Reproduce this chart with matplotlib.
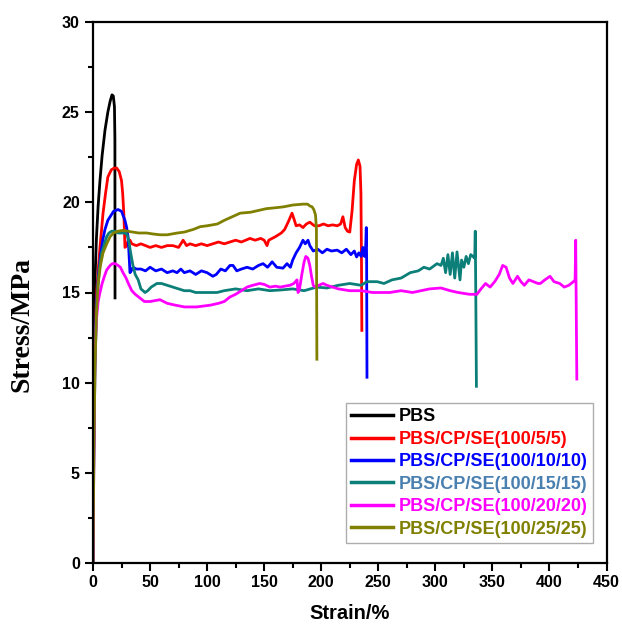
import matplotlib
matplotlib.use('Agg')
import matplotlib.pyplot as plt
from matplotlib.ticker import MultipleLocator

plt.rcParams['font.family'] = ['Liberation Sans', 'DejaVu Sans']
plt.rcParams['font.weight'] = 'bold'

# PBS
pbs_x = [0, 0.8, 1.75, 3, 4.5, 6.1, 8, 10.5, 13, 15, 16.65, 17.8, 18.8, 19.2, 19.3]
pbs_y = [0, 9, 15.7, 18, 19.8, 21.2, 22.6, 24.0, 25.0, 25.6, 25.96, 25.9, 25.3, 23.5, 14.7]

# PBS/CP/SE(100/5/5)
r_x = [0, 0.8, 1.8, 3, 4.5, 6.1, 8.8, 11, 13, 16, 18.5, 20.8, 23, 25, 26, 27, 27.5, 28,
       29.5, 31, 32.4, 34, 38, 42, 46, 50, 55, 60, 65, 70, 75, 79, 82, 85, 90, 95, 100,
       105, 110, 115, 120, 125, 130, 137.6, 142, 147, 150, 152.5, 154, 157, 160, 165,
       168, 171, 174.4, 176, 178, 181, 184, 187, 190, 194, 198, 202, 206, 210, 214, 217,
       219, 221, 223, 225, 227, 229, 231, 232.5, 234, 234.8, 235.3, 235.6]
r_y = [0, 8, 12.5, 14.8, 16.2, 17.5, 19.4, 20.5, 21.4, 21.8, 21.9, 21.9, 21.7, 21.2, 20.5,
       19.4, 18.5, 17.5, 17.6, 17.9, 17.9, 17.7, 17.6, 17.7, 17.6, 17.5, 17.6, 17.5, 17.6,
       17.6, 17.5, 17.9, 17.6, 17.7, 17.6, 17.7, 17.6, 17.7, 17.8, 17.7, 17.8, 17.9, 17.8,
       18.0, 17.9, 18.0, 17.9, 17.6, 17.9, 18.0, 18.1, 18.3, 18.5, 18.9, 19.4, 19.1, 18.7,
       18.75, 18.6, 18.8, 18.9, 18.7, 18.7, 18.8, 18.7, 18.75, 18.7, 18.8, 19.2, 18.6,
       18.4, 18.35, 19.5, 21.2, 22.1, 22.35, 22.0, 20.5, 16.5, 12.9]

# PBS/CP/SE(100/10/10)
b_x = [0, 0.8, 1.8, 3, 4.5, 6.5, 8.5, 10.5, 13, 15, 18, 22, 25, 28, 29.5, 30.7, 31.5,
       32.4, 33.5, 35, 38, 42, 46, 50, 55, 60, 65, 70, 73.6, 77, 80, 85, 90, 95, 100, 105,
       108, 112, 116, 120, 122.7, 126, 130, 135, 140, 145, 149, 153, 157, 161, 166.5, 170,
       173, 175, 178, 181, 184, 186, 188.4, 190, 193, 197, 201, 205, 209, 214, 218, 222,
       226, 229, 231, 233, 235, 236.5, 238, 239, 239.5, 239.8, 240.1]
b_y = [0, 7.5, 12, 14.3, 15.8, 17, 17.9, 18.5, 19.0, 19.2, 19.5, 19.6, 19.5, 19.0, 18.6,
       18.1, 17.2, 16.1, 16.2, 16.4, 16.3, 16.3, 16.2, 16.4, 16.2, 16.3, 16.1, 16.2, 16.1,
       16.3, 16.1, 16.2, 16.0, 16.2, 16.1, 15.9, 16.0, 16.3, 16.2, 16.5, 16.5, 16.2, 16.3,
       16.4, 16.3, 16.5, 16.6, 16.4, 16.7, 16.4, 16.35, 16.6, 16.4, 16.8, 17.2, 17.5, 17.9,
       17.7, 17.9, 17.6, 17.3, 17.4, 17.2, 17.4, 17.3, 17.35, 17.2, 17.4, 17.1, 17.3, 16.97,
       17.2, 17.0, 17.5, 17.0, 17.6, 18.6, 16.8, 10.3]

# PBS/CP/SE(100/15/15)
t_x = [0, 0.8, 1.8, 3, 4.5, 6, 7.6, 10, 12, 14, 16.4, 19, 22, 25, 28, 30, 31.5, 33, 35,
       37, 39.6, 42, 45.6, 48, 51, 56, 60, 65, 70, 75, 80, 85, 90, 94, 100, 108.7, 115,
       125, 135, 145, 155, 166.5, 175, 185, 196, 205, 215, 225, 235, 240, 249, 255, 262,
       270, 278, 285, 290, 295, 301.5, 305, 307, 309, 311, 313, 315, 317, 319, 321.6, 323,
       325, 327, 329, 331, 333, 334.5, 335, 335.5, 336]
t_y = [0, 6.5, 11, 13.8, 15.5, 16.5, 17.2, 17.7, 18.1, 18.3, 18.4, 18.4, 18.3, 18.3, 18.3,
       18.2, 17.8, 17.2, 16.5, 16.0, 15.7, 15.2, 15.0, 15.1, 15.3, 15.5, 15.5, 15.4, 15.3,
       15.2, 15.1, 15.1, 15.0, 15.0, 15.0, 15.0, 15.1, 15.2, 15.1, 15.2, 15.1, 15.15, 15.2,
       15.1, 15.3, 15.25, 15.4, 15.5, 15.4, 15.6, 15.6, 15.5, 15.7, 15.8, 16.1, 16.2, 16.4,
       16.3, 16.6, 16.5, 16.9, 16.1, 17.1, 16.0, 17.2, 15.8, 17.25, 15.7, 16.8, 16.4, 17.0,
       16.6, 17.1, 17.0, 16.9, 18.4, 14.5, 9.8]

# PBS/CP/SE(100/20/20)
m_x = [0, 0.8, 1.75, 3, 4.5, 6.1, 8, 10, 12, 15, 17, 19.3, 22, 24, 26.3, 29, 31, 34, 37,
       41, 45, 50, 58.7, 65, 72, 80, 86, 91, 97, 103, 110, 115, 120, 125, 130, 135, 140,
       146, 150, 155, 160, 164, 168, 172.6, 176, 178.8, 179.7, 181, 183, 185, 186.5, 188.4,
       190, 191.5, 193, 194.6, 198, 201.6, 205, 210, 215, 225, 235, 245, 260, 270, 280,
       295, 305, 313, 320, 330, 336.5, 340, 344, 348, 352, 356, 359, 362, 365, 368, 372,
       375, 378, 382, 386, 390, 392, 396, 400.5, 404, 409, 413, 417, 421, 422.5, 423,
       423.5, 424]
m_y = [0, 6, 11.5, 13.5, 14.5, 15.0, 15.5, 15.9, 16.25, 16.5, 16.6, 16.6, 16.5, 16.4,
       16.1, 15.8, 15.5, 15.1, 14.9, 14.7, 14.5, 14.5, 14.6, 14.4, 14.3, 14.2, 14.2, 14.2,
       14.25, 14.3, 14.4, 14.5, 14.75, 14.9, 15.1, 15.3, 15.4, 15.5, 15.45, 15.3, 15.35,
       15.3, 15.35, 15.4, 15.5, 15.7, 15.0, 15.2, 16.0, 16.7, 17.0, 16.9, 16.5, 15.9, 15.4,
       15.3, 15.4, 15.5, 15.4, 15.3, 15.2, 15.1, 15.1, 15.0, 15.0, 15.1, 15.0, 15.2, 15.25,
       15.1, 15.0, 14.9, 14.9, 15.2, 15.5, 15.3, 15.6, 16.0, 16.5, 16.4, 15.8, 15.5, 15.9,
       15.6, 15.4, 15.7, 15.6, 15.5, 15.5, 15.7, 15.9, 15.6, 15.5, 15.3, 15.4, 15.6, 15.7,
       17.9, 14.0, 10.2]

# PBS/CP/SE(100/25/25)
o_x = [0, 0.8, 1.8, 3, 4.5, 6.5, 8.8, 12, 15, 18, 22, 26.6, 30, 35, 40, 47, 52, 58.7, 65,
       74, 80, 88, 94, 100, 109, 115, 122, 129, 138, 145, 152, 160, 167, 175, 184, 188,
       190, 192, 193.5, 195, 195.8, 196.2]
o_y = [0, 6.5, 11, 13.8, 15.5, 16.5, 17.2, 17.7, 18.1, 18.3, 18.4, 18.45, 18.4, 18.35,
       18.3, 18.3, 18.25, 18.2, 18.2, 18.3, 18.35, 18.5, 18.65, 18.7, 18.8, 19.0, 19.2,
       19.4, 19.45, 19.55, 19.65, 19.7, 19.75, 19.85, 19.9, 19.9, 19.8, 19.75, 19.6, 19.3,
       18.5, 11.3]

labels = ['PBS', 'PBS/CP/SE(100/5/5)', 'PBS/CP/SE(100/10/10)', 'PBS/CP/SE(100/15/15)',
          'PBS/CP/SE(100/20/20)', 'PBS/CP/SE(100/25/25)']
colors = ['black', '#ff0000', '#0000ff', '#0b7f78', '#ff00ff', '#808000']
text_colors = ['black', '#ff0000', '#0000ff', '#4a80b0', '#ff00ff', '#808000']

xs = [pbs_x, r_x, b_x, t_x, m_x, o_x]
ys = [pbs_y, r_y, b_y, t_y, m_y, o_y]

fig = plt.figure(figsize=(6.22, 6.27), dpi=100)
ax = fig.add_axes([93 / 622, (627 - 563) / 627, 513.5 / 622, 541 / 627])

for x, y, c, lab in zip(xs, ys, colors, labels):
    ax.plot(x, y, color=c, lw=2.0, label=lab)

ax.set_xlim(0, 450)
ax.set_ylim(0, 30)
ax.xaxis.set_major_locator(MultipleLocator(50))
ax.xaxis.set_minor_locator(MultipleLocator(25))
ax.yaxis.set_major_locator(MultipleLocator(5))
ax.yaxis.set_minor_locator(MultipleLocator(2.5))
ax.tick_params(which='major', direction='out', length=6, width=1.5, labelsize=11.5)
ax.tick_params(axis='x', which='major', pad=2.5)
ax.tick_params(which='minor', direction='out', length=3.5, width=1.5)
for s in ax.spines.values():
    s.set_linewidth(1.6)

ax.set_xlabel('Strain/%', fontsize=14.5, fontweight='bold', va='center')
ax.xaxis.set_label_coords(0.5, -0.094)
ax.set_ylabel('Stress/MPa', fontsize=20, fontweight='bold', family='Liberation Serif',
              va='center')
ax.yaxis.set_label_coords(-0.138, 0.44)

leg = ax.legend(loc='lower right', bbox_to_anchor=(0.974, 0.037),
                prop={'weight': 'bold', 'size': 13}, frameon=True, fancybox=False,
                edgecolor='#999999', labelspacing=0.3, handlelength=2.3,
                handletextpad=0.35, borderpad=0.3, borderaxespad=0)
leg.get_frame().set_linewidth(1.0)
for txt, c in zip(leg.get_texts(), text_colors):
    txt.set_color(c)
for h in leg.get_lines():
    h.set_linewidth(2.5)

plt.savefig('out.png', dpi=100)
